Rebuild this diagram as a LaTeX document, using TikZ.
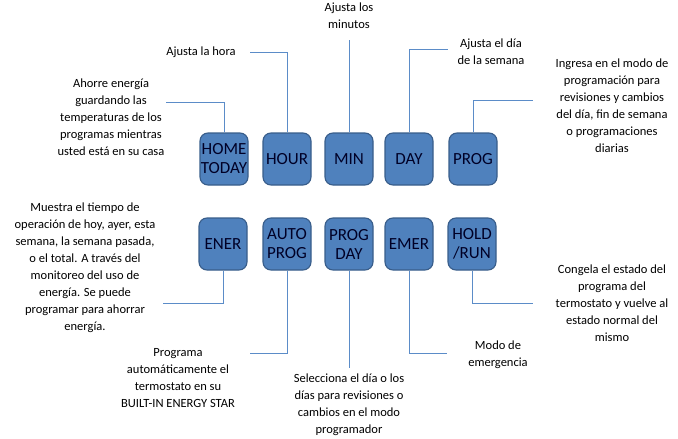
\documentclass[tikz,border=0pt]{standalone}
\usepackage{fontspec}
\setmainfont{Carlito}
\usetikzlibrary{calc}
\definecolor{btnfill}{HTML}{4F81BD}
\definecolor{btnline}{HTML}{385D8A}
\definecolor{wirecol}{HTML}{5B8CC8}
\tikzset{
  btn/.style= {draw=btnline, fill=btnfill, line width=1.1pt, rounded corners=8pt,
    minimum width=48pt, minimum height=52pt, inner sep=0pt, align=center,
    font=\fontsize{17}{19}\selectfont, text=black!85!blue},
  note/.style= {align=center, inner sep=0pt, font=\fontsize{12.5}{17}\selectfont},
  wire/.style= {draw=wirecol, line width=0.9pt},
}

\begin{document}
\begin{tikzpicture}[x=1pt, y=-1pt]
  \useasboundingbox (0,0) rectangle (678,439);

  % top row
  \node [btn] (home) at (224,159) {HOME\\TODAY} ;
  \node [btn] (hour) at (287,159) {HOUR} ;
  \node [btn] (min) at (349,159) {MIN} ;
  \node [btn] (day) at (409,159) {DAY} ;
  \node [btn] (prog) at (473,159) {PROG} ;

  % bottom row
  \node [btn] (ener) at (223,244) {ENER} ;
  \node [btn] (auto) at (287,244) {AUTO\\PROG} ;
  \node [btn] (progday) at (349,244) {PROG\\DAY} ;
  \node [btn] (emer) at (409,244) {EMER} ;
  \node [btn] (hold) at (472,244) {HOLD\\/RUN} ;

  % texts
  \node [note] (ahorre) at (111,117) {Ahorre energía\\guardando las\\temperaturas de los\\programas mientras\\usted está en su casa} ;
  \node [note] (hora) at (201,52) {Ajusta la hora} ;
  \node [note] (minutos) at (349,16) {Ajusta los\\minutos} ;
  \node [note] (semana) at (491,52) {Ajusta el día\\de la semana} ;
  \node [note] (ingresa) at (612,106) {Ingresa en el modo de\\programación para\\revisiones y cambios\\del día, fin de semana\\o programaciones\\diarias} ;
  \node [note] (muestra) at (85,268) {Muestra el tiempo de\\operación de hoy, ayer, esta\\semana, la semana pasada,\\o el total. A través del\\monitoreo del uso de\\energía. Se puede\\programar para ahorrar\\energía.} ;
  \node [note] (programa) at (178,378) {Programa\\automáticamente el\\termostato en su\\BUILT-IN ENERGY STAR} ;
  \node [note] (selecciona) at (349,405) {Selecciona el día o los\\días para revisiones o\\cambios en el modo\\programador} ;
  \node [note] (modo) at (498,355) {Modo de\\emergencia} ;
  \node [note] (congela) at (612,303) {Congela el estado del\\programa del\\termostato y vuelve al\\estado normal del\\mismo} ;

  % line ends
  \coordinate (homeEnd) at (166,102) ;
  \coordinate (hourEnd) at (250,52) ;
  \coordinate (minEnd) at (349,40) ;
  \coordinate (dayEnd) at (448,49) ;
  \coordinate (progEnd) at (533,100) ;
  \coordinate (enerEnd) at (163,303) ;
  \coordinate (autoEnd) at (250,353) ;
  \coordinate (progdayEnd) at (349,368) ;
  \coordinate (emerEnd) at (447,353) ;
  \coordinate (holdEnd) at (533,303) ;

  \draw [wire] (home.north) |- (homeEnd) ;
  \draw [wire] (hour.north) |- (hourEnd) ;
  \draw [wire] (min.north) -- (minEnd) ;
  \draw [wire] (day.north) |- (dayEnd) ;
  \draw [wire] (prog.north) |- (progEnd) ;
  \draw [wire] (ener.south) |- (enerEnd) ;
  \draw [wire] (auto.south) |- (autoEnd) ;
  \draw [wire] (progday.south) -- (progdayEnd) ;
  \draw [wire] (emer.south) |- (emerEnd) ;
  \draw [wire] (hold.south) |- (holdEnd) ;
\end{tikzpicture}
\end{document}
